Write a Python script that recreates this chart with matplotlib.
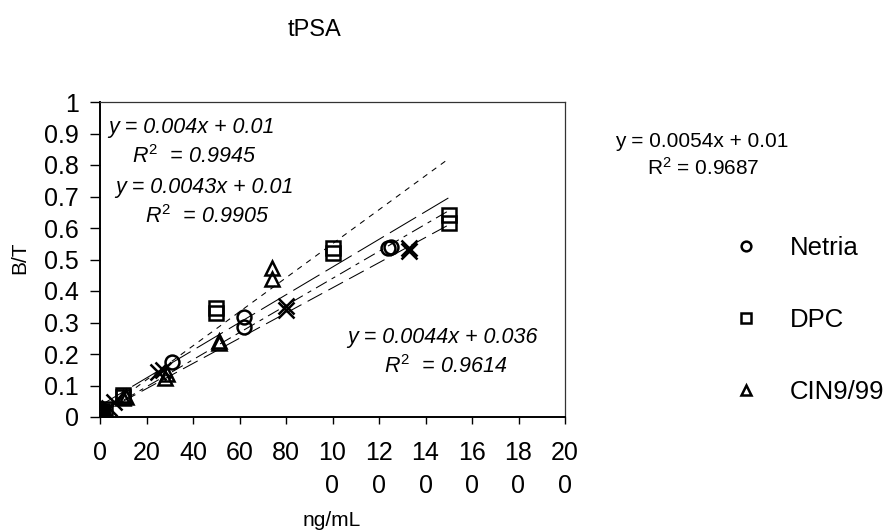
import matplotlib
matplotlib.use("Agg")
import matplotlib.pyplot as plt
import numpy as np

plt.rcParams["font.family"] = ["Liberation Sans", "DejaVu Sans"]
plt.rcParams["mathtext.fontset"] = "custom"
plt.rcParams["mathtext.rm"] = "Liberation Sans"
plt.rcParams["mathtext.it"] = "Liberation Sans:italic"
plt.rcParams["lines.scale_dashes"] = False

# data (ng/mL vs B/T)
netria_x = [0, 0, 1, 31, 62, 62, 124, 125]
netria_y = [0.01, 0.02, 0.015, 0.175, 0.285, 0.316, 0.535, 0.54]

dpc_x = [0, 0, 1, 2, 10, 10, 50, 50, 100, 100, 150, 150]
dpc_y = [0.005, 0.015, 0.02, 0.025, 0.065, 0.07, 0.33, 0.345, 0.52, 0.535, 0.615, 0.64]

cin_x = [0, 0, 2, 10, 11, 28, 29, 51, 51, 74, 74]
cin_y = [0.01, 0.02, 0.02, 0.06, 0.065, 0.125, 0.135, 0.235, 0.24, 0.437, 0.472]

other_x = [0, 2, 4, 6, 25, 27, 80, 80, 133, 133]
other_y = [0.01, 0.02, 0.03, 0.047, 0.142, 0.15, 0.34, 0.352, 0.528, 0.538]

# trendlines as printed on the chart
fit_slope = [0.004, 0.0043, 0.0044, 0.0054]
fit_icpt = [0.01, 0.01, 0.036, 0.01]
fit_r2 = [0.9945, 0.9905, 0.9614, 0.9687]
fit_xmax = 150

xtick_vals = [0, 20, 40, 60, 80, 100, 120, 140, 160, 180, 200]
xtick_labels = ["0", "20", "40", "60", "80", "10\n0", "12\n0", "14\n0",
                "16\n0", "18\n0", "20\n0"]
ytick_vals = [0, 0.1, 0.2, 0.3, 0.4, 0.5, 0.6, 0.7, 0.8, 0.9, 1]

fig = plt.figure(figsize=(8.85, 5.3), dpi=100)
W, H = 885, 530
ax = fig.add_axes([100 / W, 113 / H, 465 / W, 315 / H])

fit_styles = [(0, (12, 5)), (0, (9, 4, 3, 4)), (0, (22, 5)), (0, (4, 4))]
xs = np.array([0, fit_xmax])
for m, b, ls in zip(fit_slope, fit_icpt, fit_styles):
    ax.plot(xs, m * xs + b, color="black", lw=0.75, linestyle=ls, zorder=2)

mk = dict(linestyle="none", color="black", mfc="none", zorder=3)
h1, = ax.plot(netria_x, netria_y, marker="o", ms=10, mew=1.8, label="Netria", **mk)
h2, = ax.plot(dpc_x, dpc_y, marker="s", ms=10, mew=1.8, label="DPC", **mk)
h3, = ax.plot(cin_x, cin_y, marker="^", ms=10, mew=1.8, label="CIN9/99", **mk)
ax.plot(other_x, other_y, marker="x", ms=11, mew=1.8, **mk)

ax.set_xlim(0, 200)
ax.set_ylim(0, 1)
ax.set_xticks(xtick_vals)
ax.set_xticklabels(xtick_labels, linespacing=1.5)
ax.set_yticks(ytick_vals)
ax.set_yticklabels(["%g" % v for v in ytick_vals])
ax.tick_params(axis="x", direction="out", length=5, width=1, pad=12, labelsize=18)
ax.tick_params(axis="y", direction="out", length=7, width=1, pad=8, labelsize=18)

for s in ["left", "bottom"]:
    ax.spines[s].set_linewidth(1.4)
for s in ["top", "right"]:
    ax.spines[s].set_linewidth(0.9)
    ax.spines[s].set_color("#333333")

fig.text(315 / W, 1 - 30 / H, "tPSA", ha="center", va="center", fontsize=17)
fig.text(332 / W, 1 - 520 / H, "ng/mL", ha="center", va="center", fontsize=15)
fig.text(20 / W, 1 - 258 / H, "B/T", ha="center", va="center",
         rotation=90, fontsize=15)

# equation labels
eq_pos = [(108, 128, 132, 157), (115, 188, 145, 217), (347, 337, 384, 367)]
for (ex, ey, rx, ry), m, b, r2 in zip(eq_pos, fit_slope[:3], fit_icpt[:3], fit_r2[:3]):
    fig.text(ex / W, 1 - ey / H, "y = %gx + %g" % (m, b), ha="left", va="center",
             fontsize=15.5, style="italic")
    fig.text(rx / W, 1 - ry / H, r"$R^{\mathit{2}}$  = %g" % r2, ha="left",
             va="center", fontsize=15.5, style="italic")
fig.text(615 / W, 1 - 142 / H, "y = %gx + %g" % (fit_slope[3], fit_icpt[3]),
         ha="left", va="center", fontsize=15)
fig.text(647 / W, 1 - 168 / H, r"R$^{2}$ = %g" % fit_r2[3], ha="left",
         va="center", fontsize=15)

fig.legend(handles=[h1, h2, h3], loc="center left",
           bbox_to_anchor=(733 / W, 1 - 320 / H), frameon=False, fontsize=18.5,
           markerscale=0.7, handlelength=1.0, handletextpad=1.2,
           labelspacing=1.85, borderpad=0, borderaxespad=0)

fig.savefig("out.png", dpi=100)
